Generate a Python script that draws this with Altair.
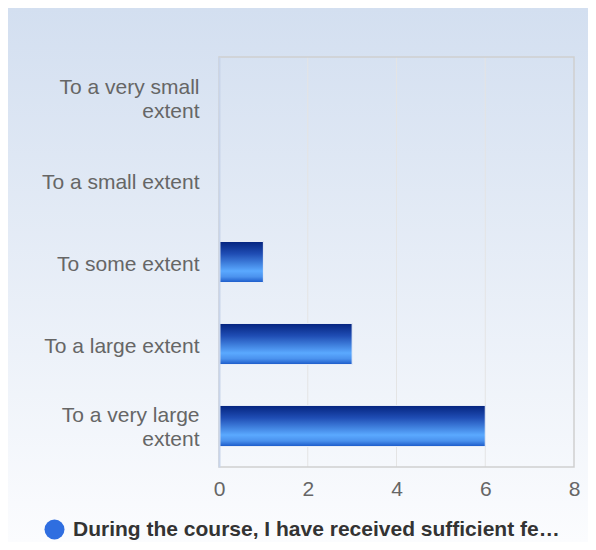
import altair as alt
import pandas as pd

categories = ["To a very small extent", "To a small extent", "To some extent",
              "To a large extent", "To a very large extent"]
counts = [0, 0, 1, 3, 6]
x_ticks = [0, 2, 4, 6, 8]
grid_values = [2, 4, 6]
series_name = "During the course, I have received sufficient feedback on my work"

W, H = 355, 410
PAD = {"left": 211, "top": 49, "right": 14, "bottom": 75}
FONT = "Liberation Sans"
FS = 21

bars_df = pd.DataFrame({"category": categories, "count": counts})
grid_df = pd.DataFrame({"count": grid_values})
legend_df = pd.DataFrame({"series": [series_name]})
one = pd.DataFrame({"a": [0]})

bg_gradient = {
    "gradient": "linear", "x1": 0, "y1": 0, "x2": 0, "y2": 1,
    "stops": [{"offset": 0, "color": "#d3dff0"},
              {"offset": 1, "color": "#fbfcfe"}],
}
bar_gradient = {
    "gradient": "linear", "x1": 0, "y1": 0, "x2": 0, "y2": 1,
    "stops": [{"offset": 0, "color": "#04237e"},
              {"offset": 0.3, "color": "#1f4db4"},
              {"offset": 0.72, "color": "#5aa9ff"},
              {"offset": 0.86, "color": "#4b92ee"},
              {"offset": 1, "color": "#1a59c8"}],
}

xscale = alt.Scale(domain=[0, 8], nice=False)
x_axis = alt.Axis(values=x_ticks, title=None, grid=False, ticks=False,
                  domain=False, labelFont=FONT, labelFontSize=FS, labelFlush=False,
                  labelColor="#666666", labelPadding=11, zindex=1)

background = alt.Chart(one).mark_rect(fill=bg_gradient).encode(
    x=alt.value(-PAD["left"]), x2=alt.value(W + PAD["right"]),
    y=alt.value(-PAD["top"]), y2=alt.value(H + PAD["bottom"]),
)

grid = alt.Chart(grid_df).mark_rule(color="#e4e4e4", strokeWidth=1).encode(
    x=alt.X("count:Q", scale=xscale, axis=x_axis),
)

border = alt.Chart(one).mark_rect(filled=False, stroke="#cfcfcf", strokeWidth=1.5).encode(
    x=alt.value(0), x2=alt.value(W), y=alt.value(0), y2=alt.value(H),
)

label_expr = ("length(datum.label) > 20 ? "
              "[slice(datum.label, 0, lastindexof(datum.label, ' ')), "
              "slice(datum.label, lastindexof(datum.label, ' ') + 1)] : datum.label")

bars = alt.Chart(bars_df).mark_bar(
    fill=bar_gradient, stroke="#e6ecf6", strokeWidth=1
).encode(
    x=alt.X("count:Q", scale=xscale, axis=x_axis),
    y=alt.Y("category:N", sort=categories,
            scale=alt.Scale(paddingInner=0.5, paddingOuter=0.25),
            axis=alt.Axis(title=None, ticks=False, domain=True,
                          domainColor="#c9d5ea", domainWidth=2,
                          labelFont=FONT, labelFontSize=FS, labelColor="#666666",
                          labelPadding=20, labelLineHeight=24, labelLimit=300,
                          labelOffset={"condition": {"test": "length(datum.value) > 20",
                                                     "value": -10},
                                       "value": 3},
                          labelExpr=label_expr, zindex=1)),
)

legend_layer = alt.Chart(legend_df).mark_circle(opacity=0).encode(
    color=alt.Color("series:N", scale=alt.Scale(range=["#2f6ee0"]),
                    legend=alt.Legend(
                        title=None, orient="none", legendX=-175, legendY=462,
                        symbolType="circle", symbolSize=400, symbolStrokeWidth=0,
                        symbolOpacity=1, symbolFillColor="#2f6ee0",
                        labelFont=FONT, labelFontWeight="bold",
                        labelFontSize=FS, labelColor="#333333", labelLimit=492,
                        labelOffset=8, zindex=1)),
)

chart = alt.layer(background, grid, bars, border, legend_layer).properties(
    width=W, height=H, padding=PAD, autosize="none",
).configure_view(stroke=None).configure(background="#ffffff")

chart.save("out.html", embed_options={"renderer": "svg", "actions": False})
